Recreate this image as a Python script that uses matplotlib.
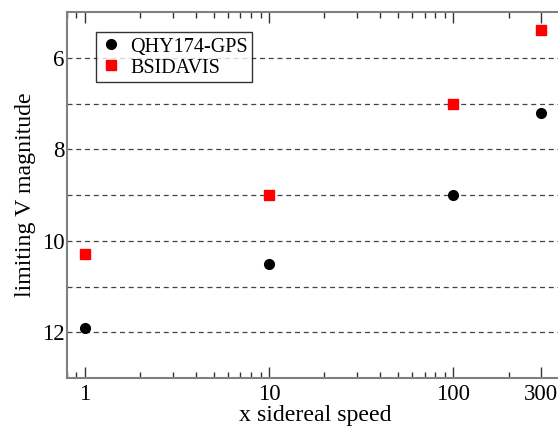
import numpy as np
import matplotlib
matplotlib.use("Agg")
import matplotlib.pyplot as plt
from matplotlib.ticker import LogLocator, NullFormatter, FixedLocator

speed = [1, 10, 100, 300]
qhy = [11.9, 10.5, 9.0, 7.2]
bsi = [10.3, 9.0, 7.0, 5.4]
xtick_labels = ["1", "10", "100", "300"]

plt.rcParams['font.family'] = ['Liberation Serif', 'DejaVu Serif']

fig = plt.figure(figsize=(5.58, 4.26), dpi=100)
ax = fig.add_axes([0.12, 0.1127, 0.891, 0.859])

# dashed lines at every magnitude
for m in range(6, 13):
    ax.axhline(m, color='#444444', linestyle=(0, (4, 3)), linewidth=0.9, zorder=1)

ax.plot(speed, qhy, 'o', color='black', markersize=7, label="QHY174-GPS", zorder=3)
ax.plot(speed, bsi, 's', color='red', markersize=6.5, label="BSIDAVIS", zorder=3)

ax.set_xscale('log')
ax.set_xlim(0.8, 400)
ax.set_ylim(13, 5)

ax.xaxis.set_major_locator(FixedLocator(speed))
ax.set_xticklabels(xtick_labels)
ax.xaxis.set_minor_locator(LogLocator(base=10, subs=np.arange(2, 10)))
ax.xaxis.set_minor_formatter(NullFormatter())
ax.set_yticks([6, 8, 10, 12])
ax.set_yticks([5, 7, 9, 11, 13], minor=True)

ax.tick_params(which='both', direction='in', top=True, right=True, labelsize=16.5, colors='black')
ax.tick_params(which='major', length=8, width=1, color='#333333')
ax.tick_params(which='minor', length=4, width=1, color='#333333')
ax.tick_params(axis='y', which='both', length=0, pad=2)
ax.tick_params(axis='x', pad=4)

for s in ax.spines.values():
    s.set_color('#808080')
    s.set_linewidth(1.5)

ax.set_xlabel("x sidereal speed", fontsize=17.2, labelpad=0)
ax.set_ylabel("limiting V magnitude", fontsize=17.2, labelpad=4)

leg = ax.legend(loc='upper left', bbox_to_anchor=(0.058, 0.945), borderaxespad=0,
                fontsize=14.5, frameon=True, fancybox=False, edgecolor='black',
                handletextpad=0.4, borderpad=0.2, labelspacing=0.05, handlelength=1.1,
                handleheight=0.9)
leg.get_frame().set_linewidth(1.0)

fig.savefig("out.png", dpi=100)
